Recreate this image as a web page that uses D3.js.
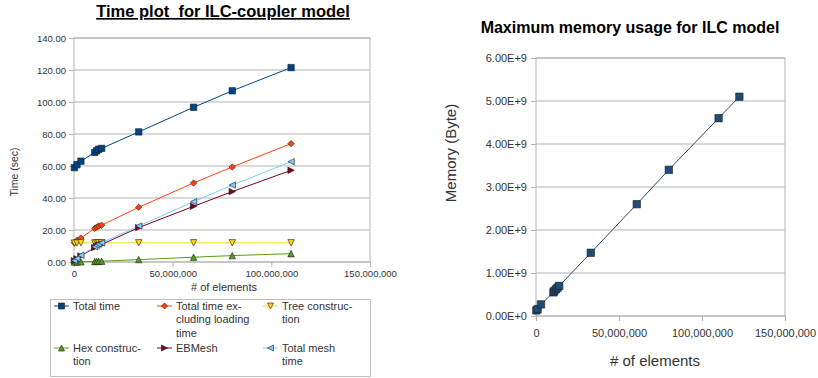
<!DOCTYPE html>
<html>
<head>
<meta charset="utf-8">
<script src="https://cdn.jsdelivr.net/npm/d3@7"></script>
<style>
  body { margin: 0; background: #fff; }
  svg { display: block; font-family: "Liberation Sans", Arial, sans-serif; }
</style>
</head>
<body>
<svg id="chart" width="818" height="378"></svg>
<script>
// ---- data: time plot
var elements = [200000, 1500000, 3500000, 10500000, 11500000, 12500000, 14000000, 32800000, 60600000, 80200000, 110000000];
var totalTime = [59, 60.8, 63, 68.5, 69.5, 70.5, 71, 81.3, 96.7, 107, 121.5];
var totalExclLoading = [12, 13.5, 15, 21, 21.8, 22.5, 23, 34.2, 49.4, 59.4, 74];
var treeConstruction = [11.8, 11.9, 12, 11.9, 12, 12, 12, 12, 12, 12, 12];
var hexConstruction = [0, 0, 0.1, 0.3, 0.4, 0.4, 0.5, 1.5, 3, 4, 5.2];
var ebMesh = [0.8, 2, 3.8, 9, 9.8, 10.5, 11, 21.5, 34.8, 44, 57.3];
var totalMesh = [0.9, 2.2, 4.2, 9.5, 10.5, 11.2, 12, 22.5, 37.7, 48.1, 62.7];
var timeTicks = [0, 20, 40, 60, 80, 100, 120, 140];
var elemTicks = [0, 50000000, 100000000, 150000000];

// ---- data: memory plot
var memElements = [200000, 1000000, 3000000, 10500000, 11000000, 12000000, 13000000, 14000000, 33000000, 60700000, 80000000, 110000000, 122500000];
var memBytes = [1.3e8, 1.6e8, 2.7e8, 5.5e8, 5.8e8, 6.2e8, 6.6e8, 7.0e8, 1.47e9, 2.6e9, 3.4e9, 4.6e9, 5.1e9];
var memTicks = [0, 1e9, 2e9, 3e9, 4e9, 5e9, 6e9];

var series = [
  { name: ["Total time"], values: totalTime, color: "#004586", shape: "square" },
  { name: ["Total time ex-", "cluding loading", "time"], values: totalExclLoading, color: "#ff420e", shape: "diamond" },
  { name: ["Tree construc-", "tion"], values: treeConstruction, color: "#ffd320", shape: "down" },
  { name: ["Hex construc-", "tion"], values: hexConstruction, color: "#579d1c", shape: "up" },
  { name: ["EBMesh"], values: ebMesh, color: "#7e0021", shape: "right" },
  { name: ["Total mesh", "time"], values: totalMesh, color: "#83caff", shape: "left" }
];

var svg = d3.select("#chart");
var gridColor = "#b3b3b3", textColor = "#333";

//-------------------------
function marker(g, shape, x, y, fill, s) {
  var p;
  if (shape === "square") p = [[-s, -s], [s, -s], [s, s], [-s, s]];
  else if (shape === "diamond") p = [[0, -s], [s, 0], [0, s], [-s, 0]];
  else if (shape === "down") p = [[-s, -s], [s, -s], [0, s]];
  else if (shape === "up") p = [[-s, s], [s, s], [0, -s]];
  else if (shape === "right") p = [[-s, -s], [s, 0], [-s, s]];
  else p = [[s, -s], [-s, 0], [s, s]];
  g.append("path")
    .attr("d", "M" + p.map(function (q) { return (x + q[0]) + "," + (y + q[1]); }).join("L") + "Z")
    .attr("fill", fill)
    .attr("stroke", "#1a1a1a")
    .attr("stroke-width", 0.6);
}

function frame(g, x, y, yTicks, fmtY, fmtX, fs) {
  var r = x.range(), t = y.range();
  g.selectAll(".grid").data(yTicks).enter().append("line")
    .attr("x1", r[0]).attr("x2", r[1])
    .attr("y1", function (d) { return y(d); }).attr("y2", function (d) { return y(d); })
    .attr("stroke", gridColor);
  g.append("rect")
    .attr("x", r[0]).attr("y", t[1]).attr("width", r[1] - r[0]).attr("height", t[0] - t[1])
    .attr("fill", "none").attr("stroke", gridColor);

  var ya = g.append("g").attr("transform", "translate(" + r[0] + ",0)")
    .call(d3.axisLeft(y).tickValues(yTicks).tickFormat(fmtY).tickSize(5).tickSizeOuter(0));
  var xa = g.append("g").attr("transform", "translate(0," + t[0] + ")")
    .call(d3.axisBottom(x).tickValues(elemTicks).tickFormat(fmtX).tickSize(5).tickSizeOuter(0));
  [ya, xa].forEach(function (a) {
    a.select(".domain").remove();
    a.selectAll("line").attr("stroke", gridColor);
    a.selectAll("text").attr("fill", textColor).style("font-size", fs + "px")
      .style("font-family", '"Liberation Sans", Arial, sans-serif');
  });
  return { ya: ya, xa: xa };
}

var fmtComma = function (d) { return d3.format(",")(d); };

//------------- left: time plot
(function () {
  var g = svg.append("g");
  var x = d3.scaleLinear().domain([0, 150000000]).range([74, 370]);
  var y = d3.scaleLinear().domain([0, 140]).range([262, 38]);

  g.append("text").attr("x", 223).attr("y", 17).attr("text-anchor", "middle")
    .style("font-size", "16.5px").style("font-weight", "bold").style("text-decoration", "underline")
    .style("white-space", "pre")
    .text("Time plot  for ILC-coupler model");

  var ax = frame(g, x, y, timeTicks, d3.format(".2f"), fmtComma, 9.5);
  ax.ya.selectAll("text").attr("x", -8);
  ax.xa.selectAll("text").attr("y", 8);

  g.append("text").attr("x", 224).attr("y", 291).attr("text-anchor", "middle")
    .attr("fill", textColor).style("font-size", "11px").text("# of elements");
  g.append("text").attr("transform", "translate(18,172) rotate(-90)").attr("text-anchor", "middle")
    .attr("fill", textColor).style("font-size", "10.5px").text("Time (sec)");

  var line = d3.line().x(function (d, i) { return x(elements[i]); }).y(function (d) { return y(d); });
  series.forEach(function (s) {
    g.append("path").attr("d", line(s.values)).attr("fill", "none")
      .attr("stroke", s.color).attr("stroke-width", 1);
  });
  series.forEach(function (s) {
    s.values.forEach(function (v, i) { marker(g, s.shape, x(elements[i]), y(v), s.color, 3.2); });
  });

  // legend
  var lg = g.append("g");
  lg.append("rect").attr("x", 50.5).attr("y", 299.5).attr("width", 320).attr("height", 77)
    .attr("fill", "#fff").attr("stroke", "#c0c0c0");
  var cols = [54, 157, 263], rows = [310, 352];
  series.forEach(function (s, i) {
    var lx = cols[i % 3], ly = rows[Math.floor(i / 3)];
    lg.append("line").attr("x1", lx).attr("x2", lx + 15).attr("y1", ly - 4).attr("y2", ly - 4)
      .attr("stroke", s.color).attr("stroke-width", 1);
    marker(lg, s.shape, lx + 7.5, ly - 4, s.color, 3);
    var t = lg.append("text").attr("x", lx + 19).attr("y", ly).attr("fill", textColor)
      .style("font-size", "11px");
    s.name.forEach(function (n, k) {
      t.append("tspan").attr("x", lx + 19).attr("dy", k === 0 ? 0 : 13.3).text(n);
    });
  });
})();

//------------- right: memory plot
(function () {
  var g = svg.append("g");
  var x = d3.scaleLinear().domain([0, 150000000]).range([536, 785]);
  var y = d3.scaleLinear().domain([0, 6e9]).range([316, 58]);

  g.append("text").attr("x", 630).attr("y", 33).attr("text-anchor", "middle")
    .style("font-size", "16px").style("font-weight", "bold")
    .text("Maximum memory usage for ILC model");

  var ax = frame(g, x, y, memTicks, function (d) { return (d / 1e9).toFixed(2) + "E+" + (d === 0 ? 0 : 9); }, fmtComma, 11);
  ax.ya.selectAll("text").attr("x", -9);
  ax.xa.selectAll("text").attr("y", 13);

  g.append("text").attr("x", 655).attr("y", 366).attr("text-anchor", "middle")
    .attr("fill", textColor).style("font-size", "15px").text("# of elements");
  g.append("text").attr("transform", "translate(456,153) rotate(-90)").attr("text-anchor", "middle")
    .attr("fill", textColor).style("font-size", "15px").text("Memory (Byte)");

  var line = d3.line().x(function (d, i) { return x(memElements[i]); }).y(function (d) { return y(d); });
  g.append("path").attr("d", line(memBytes)).attr("fill", "none")
    .attr("stroke", "#2c4a66").attr("stroke-width", 1);
  memBytes.forEach(function (v, i) { marker(g, "square", x(memElements[i]), y(v), "#1f4d7a", 3.7); });
})();
</script>
</body>
</html>
